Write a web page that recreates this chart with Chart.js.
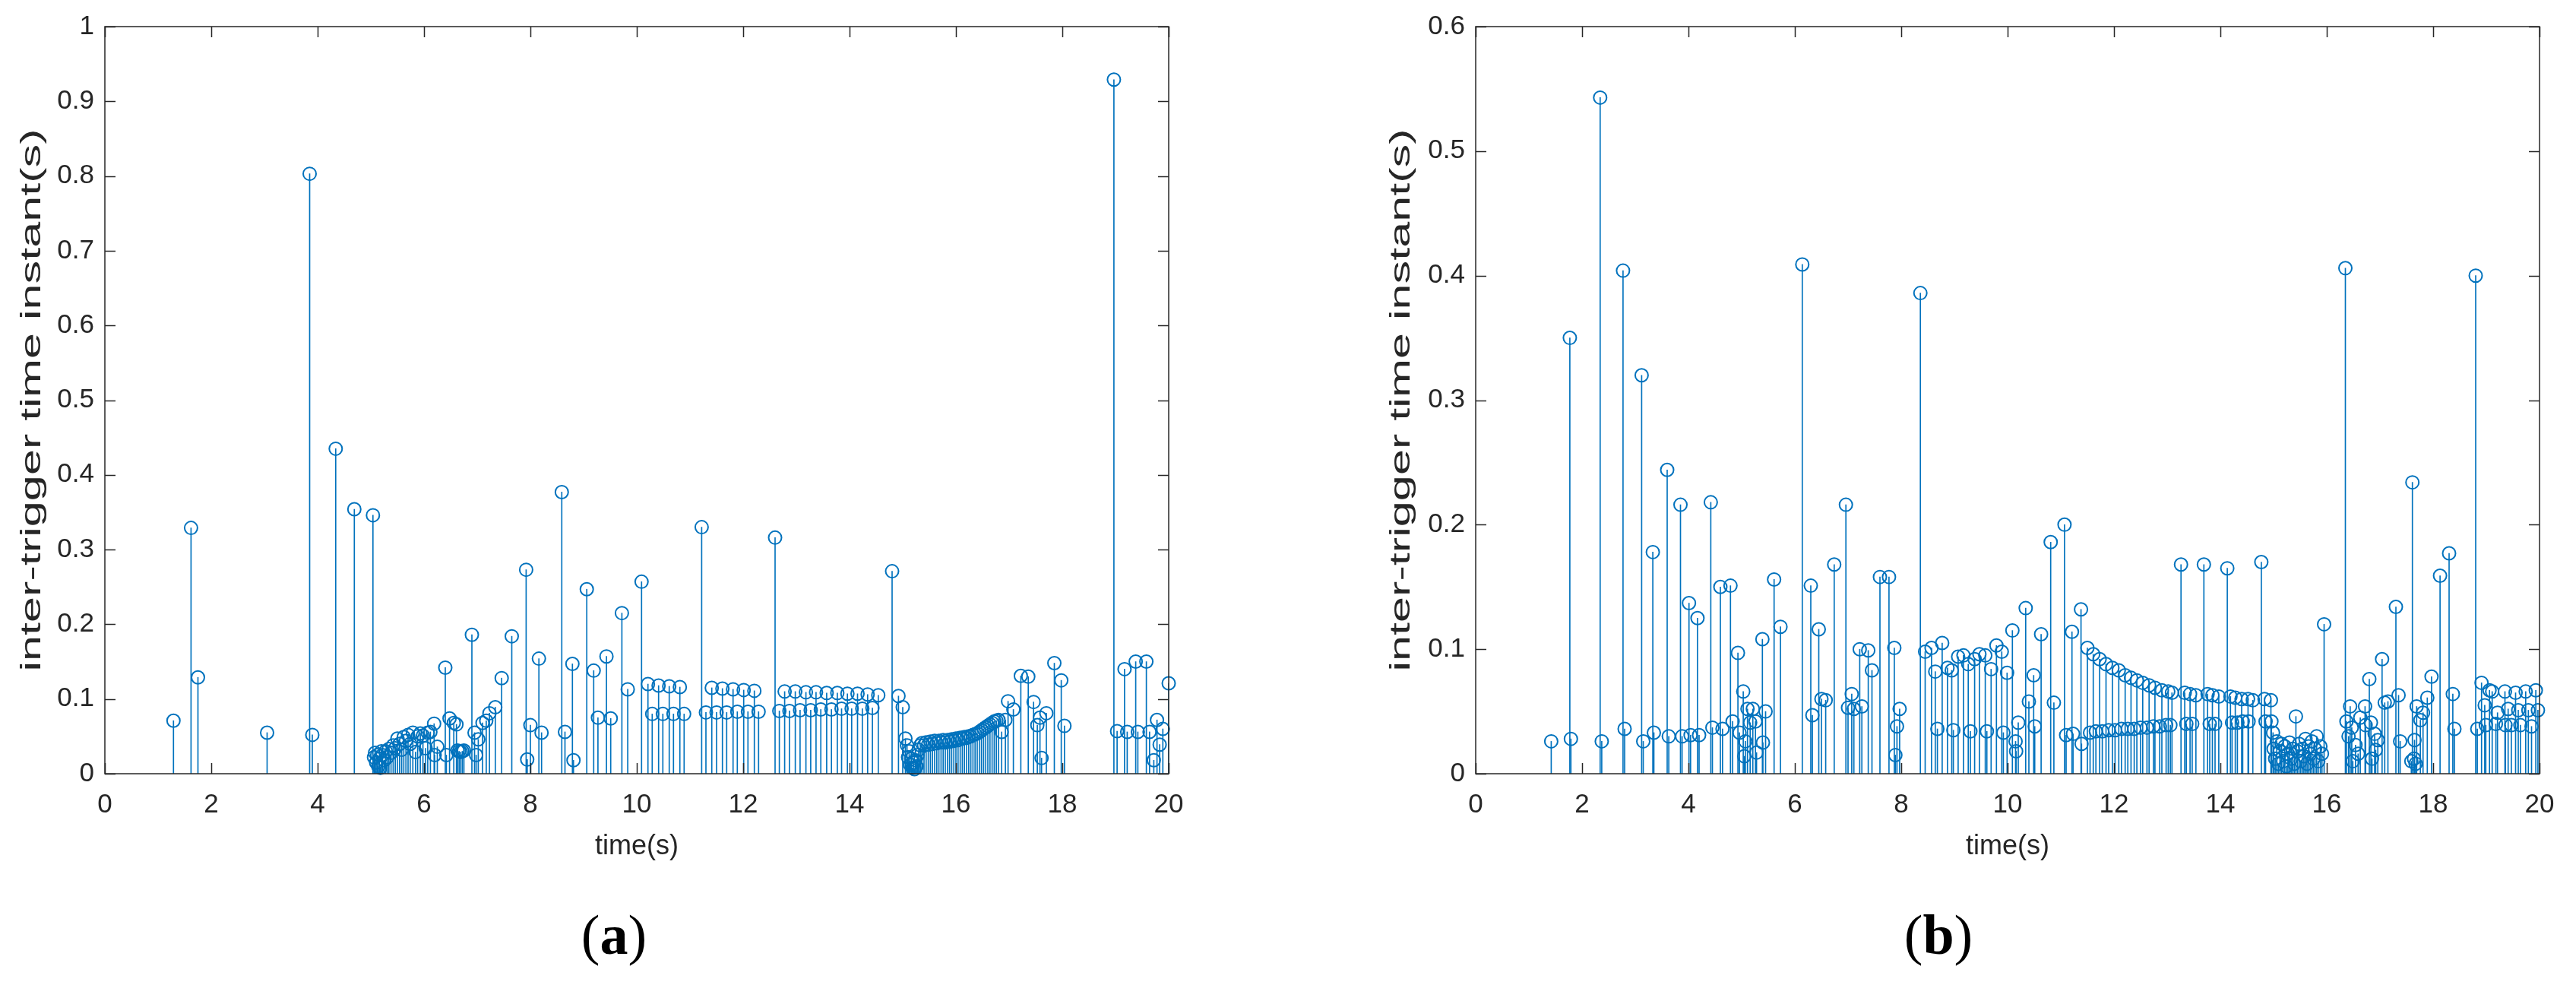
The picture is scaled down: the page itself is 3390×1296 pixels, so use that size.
<!DOCTYPE html>
<html>
<head>
<meta charset="utf-8">
<script src="https://cdn.jsdelivr.net/npm/chart.js@4.4.0/dist/chart.umd.min.js"></script>
<style>
  body { margin: 0; background: #fff; width: 3390px; height: 1296px; overflow: hidden; }
  .panel { position: absolute; top: 0; width: 1695px; height: 1296px; }
  #panelA { left: 0; }
  #panelB { left: 1695px; }
</style>
</head>
<body>
<div class="panel" id="panelA"><canvas id="chartA" width="1695" height="1296"></canvas></div>
<div class="panel" id="panelB"><canvas id="chartB" width="1695" height="1296"></canvas></div>
<script>
// tick labels
const xTicks = [0, 2, 4, 6, 8, 10, 12, 14, 16, 18, 20];
const yTicksA = [0, 0.1, 0.2, 0.3, 0.4, 0.5, 0.6, 0.7, 0.8, 0.9, 1];
const yTicksB = [0, 0.1, 0.2, 0.3, 0.4, 0.5, 0.6];

// (a) trigger times and inter-trigger intervals
const timeA = [
  1.29, 1.62, 1.75, 3.05, 3.85, 3.90, 4.34, 4.69, 5.04,
  5.06, 5.08, 5.10, 5.12, 5.14, 5.16, 5.18, 5.20, 5.22, 5.25, 5.28, 5.31, 5.34, 5.38,
  5.42, 5.46, 5.50, 5.54, 5.58, 5.62, 5.66, 5.70, 5.74, 5.79, 5.84, 5.88, 5.93, 5.98,
  6.03, 6.07, 6.12, 6.19, 6.20, 6.25, 6.40, 6.42, 6.48, 6.56, 6.61, 6.63, 6.66, 6.69,
  6.72, 6.75, 6.90, 6.95, 6.98, 7.02, 7.10, 7.17, 7.23, 7.34, 7.46, 7.65, 7.92, 7.94,
  8.00, 8.16, 8.21, 8.59, 8.65, 8.79, 8.81, 9.06, 9.19, 9.27, 9.43, 9.51, 9.72, 9.83,
  10.09, 10.21, 10.29, 10.41, 10.49, 10.61, 10.69, 10.81, 10.89,
  11.22, 11.30, 11.41, 11.50, 11.61, 11.69, 11.81, 11.89, 12.01, 12.09, 12.21, 12.29,
  12.60, 12.68, 12.78, 12.87, 12.98, 13.07, 13.18, 13.27, 13.37, 13.46, 13.57, 13.66,
  13.77, 13.85, 13.96, 14.04, 14.15, 14.24, 14.34, 14.43, 14.54,
  14.80, 14.92, 15.00, 15.05, 15.08, 15.10, 15.12, 15.14, 15.16, 15.18, 15.20, 15.22,
  15.24, 15.26, 15.28, 15.30, 15.33, 15.36, 15.40, 15.44, 15.48, 15.52, 15.56, 15.60,
  15.64, 15.68, 15.72, 15.76, 15.80, 15.84, 15.88, 15.92, 15.96, 16.00, 16.04, 16.08,
  16.12, 16.16, 16.20, 16.24, 16.28, 16.32, 16.36, 16.40, 16.44, 16.48, 16.52, 16.56,
  16.60, 16.64, 16.68, 16.72, 16.76, 16.80, 16.86, 16.93, 16.98, 17.08, 17.22, 17.36,
  17.46, 17.53, 17.58, 17.61, 17.70, 17.85, 17.98, 18.04,
  18.97, 19.03, 19.17, 19.22, 19.38, 19.42, 19.58, 19.64, 19.72, 19.78, 19.83, 19.89, 20.00
];
const valueA = [
  0.071, 0.329, 0.129, 0.055, 0.803, 0.052, 0.435, 0.354, 0.346,
  0.022, 0.028, 0.015, 0.025, 0.010, 0.020, 0.008, 0.030, 0.025, 0.018, 0.030, 0.022, 0.033, 0.028,
  0.038, 0.034, 0.047, 0.040, 0.032, 0.049, 0.044, 0.052, 0.040, 0.055, 0.029, 0.050, 0.054, 0.051,
  0.034, 0.055, 0.056, 0.067, 0.025, 0.036, 0.142, 0.025, 0.074, 0.068, 0.066, 0.031, 0.030, 0.029,
  0.030, 0.031, 0.186, 0.055, 0.025, 0.046, 0.068, 0.071, 0.081, 0.089, 0.128, 0.184, 0.273, 0.019,
  0.065, 0.154, 0.055, 0.377, 0.056, 0.147, 0.018, 0.247, 0.138, 0.075, 0.157, 0.074, 0.215, 0.113,
  0.257, 0.120, 0.080, 0.118, 0.080, 0.117, 0.080, 0.116, 0.080,
  0.330, 0.082, 0.115, 0.082, 0.114, 0.082, 0.113, 0.083, 0.112, 0.083, 0.111, 0.083,
  0.316, 0.084, 0.110, 0.084, 0.110, 0.085, 0.109, 0.085, 0.109, 0.086, 0.108, 0.086,
  0.108, 0.087, 0.107, 0.087, 0.107, 0.087, 0.106, 0.088, 0.105,
  0.271, 0.104, 0.089, 0.047, 0.038, 0.022, 0.030, 0.012, 0.020, 0.008, 0.015, 0.006,
  0.018, 0.010, 0.025, 0.032, 0.038, 0.041, 0.038, 0.042, 0.039, 0.043, 0.040, 0.044,
  0.041, 0.044, 0.042, 0.045, 0.042, 0.045, 0.043, 0.046, 0.044, 0.047, 0.045, 0.048,
  0.047, 0.049, 0.048, 0.050, 0.050, 0.052, 0.053, 0.054, 0.056, 0.058, 0.060, 0.062,
  0.064, 0.066, 0.068, 0.070, 0.071, 0.072, 0.056, 0.072, 0.097, 0.086, 0.131, 0.130,
  0.096, 0.065, 0.075, 0.021, 0.081, 0.148, 0.125, 0.064,
  0.929, 0.057, 0.140, 0.056, 0.150, 0.056, 0.150, 0.056, 0.018, 0.072, 0.039, 0.060, 0.121
];

// (b) trigger times and inter-trigger intervals
const timeB = [
  1.42, 1.77, 1.79, 2.34, 2.37, 2.77, 2.80, 3.12, 3.15, 3.33, 3.35, 3.60, 3.63, 3.85, 3.88,
  4.01, 4.04, 4.17, 4.20, 4.42, 4.45, 4.60, 4.64, 4.79, 4.83, 4.93, 4.96, 5.03, 5.05, 5.07,
  5.11, 5.16, 5.21, 5.26, 5.28, 5.39, 5.40, 5.45, 5.61, 5.73, 6.14, 6.30, 6.33, 6.45, 6.50,
  6.58, 6.74, 6.96, 7.00, 7.07, 7.11, 7.22, 7.26, 7.38, 7.45, 7.60, 7.77, 7.87, 7.89, 7.92,
  7.97, 8.36, 8.45, 8.57, 8.64, 8.68, 8.77, 8.87, 8.95, 8.98, 9.07, 9.17, 9.26, 9.30, 9.38,
  9.47, 9.58, 9.61, 9.69, 9.79, 9.89, 9.92, 9.99, 10.09, 10.15, 10.16, 10.20, 10.34, 10.40,
  10.49, 10.51, 10.63, 10.81, 10.87, 11.07, 11.10, 11.21, 11.23, 11.38, 11.39,
  11.50, 11.61, 11.73, 11.85, 11.97, 12.09, 12.21, 12.32, 12.43, 12.54, 12.66, 12.77, 12.90,
  13.02, 13.09, 13.33, 13.43, 13.54, 13.76, 13.85, 13.97, 14.19, 14.28, 14.40, 14.52, 14.61,
  14.83, 14.95,
  11.55, 11.66, 11.78, 11.90, 12.02, 12.14, 12.26, 12.38, 12.50, 12.62, 12.74, 12.86, 12.98,
  13.06, 13.36, 13.47, 13.80, 13.90, 14.22, 14.32, 14.42, 14.53, 14.85, 14.96,
  13.26, 13.69, 14.13, 14.77,
  14.99, 15.00, 15.03, 15.06, 15.09, 15.12, 15.15, 15.18, 15.21, 15.24, 15.27, 15.30, 15.33,
  15.36, 15.39, 15.42, 15.45, 15.48, 15.51, 15.54, 15.57, 15.60, 15.63, 15.66, 15.69, 15.72,
  15.75, 15.78, 15.81, 15.84, 15.88, 15.91, 15.95,
  16.35, 16.37, 16.41, 16.44, 16.47, 16.49, 16.54, 16.59, 16.63, 16.72, 16.73, 16.80, 16.83,
  16.85, 16.90, 16.92, 16.96, 17.04, 17.09, 17.15, 17.30, 17.35, 17.38, 17.59, 17.61, 17.64,
  17.65, 17.67, 17.69, 17.76, 17.81, 17.89, 17.97, 18.13, 18.30, 18.37, 18.40,
  18.80, 18.83, 18.91, 18.97, 18.99, 19.06, 19.11, 19.18, 19.21, 19.35, 19.36, 19.41, 19.47,
  19.55, 19.60, 19.64, 19.74, 19.79, 19.85, 19.93, 19.97
];
const valueB = [
  0.026, 0.350, 0.028, 0.543, 0.026, 0.404, 0.036, 0.320, 0.026, 0.178, 0.033, 0.244, 0.030, 0.216, 0.030,
  0.137, 0.031, 0.125, 0.031, 0.218, 0.037, 0.150, 0.036, 0.151, 0.042, 0.097, 0.033, 0.066, 0.014, 0.026,
  0.052, 0.041, 0.052, 0.042, 0.017, 0.108, 0.025, 0.050, 0.156, 0.118, 0.409, 0.151, 0.047, 0.116, 0.060,
  0.059, 0.168, 0.216, 0.053, 0.064, 0.052, 0.100, 0.054, 0.099, 0.083, 0.158, 0.158, 0.101, 0.015, 0.038,
  0.052, 0.386, 0.098, 0.101, 0.082, 0.036, 0.105, 0.085, 0.083, 0.035, 0.094, 0.095, 0.088, 0.034, 0.092,
  0.096, 0.095, 0.034, 0.084, 0.103, 0.098, 0.033, 0.081, 0.115, 0.026, 0.018, 0.041, 0.133, 0.058,
  0.079, 0.038, 0.112, 0.186, 0.057, 0.200, 0.031, 0.114, 0.032, 0.132, 0.024,
  0.101, 0.096, 0.092, 0.088, 0.085, 0.083, 0.079, 0.077, 0.075, 0.073, 0.071, 0.069, 0.067,
  0.066, 0.065, 0.065, 0.064, 0.063, 0.064, 0.063, 0.062, 0.062, 0.061, 0.060, 0.060, 0.059,
  0.060, 0.059,
  0.033, 0.034, 0.034, 0.035, 0.035, 0.036, 0.036, 0.036, 0.037, 0.037, 0.038, 0.038, 0.039,
  0.039, 0.040, 0.040, 0.040, 0.040, 0.041, 0.041, 0.042, 0.042, 0.042, 0.042,
  0.168, 0.168, 0.165, 0.170,
  0.033, 0.020, 0.012, 0.026, 0.008, 0.018, 0.024, 0.010, 0.022, 0.006, 0.016, 0.025, 0.012,
  0.020, 0.008, 0.046, 0.018, 0.024, 0.010, 0.020, 0.014, 0.028, 0.008, 0.022, 0.016, 0.026,
  0.012, 0.020, 0.030, 0.010, 0.022, 0.016, 0.120,
  0.406, 0.042, 0.030, 0.054, 0.037, 0.010, 0.023, 0.016, 0.045, 0.054, 0.039, 0.076, 0.041,
  0.012, 0.032, 0.019, 0.027, 0.092, 0.057, 0.058, 0.134, 0.063, 0.026, 0.010, 0.234, 0.012,
  0.027, 0.008, 0.054, 0.043, 0.049, 0.061, 0.078, 0.159, 0.177, 0.064, 0.036,
  0.400, 0.036, 0.073, 0.055, 0.039, 0.067, 0.066, 0.040, 0.049, 0.066, 0.039, 0.052, 0.039,
  0.065, 0.051, 0.039, 0.066, 0.051, 0.038, 0.067, 0.051
];

const xTitle = "time(s)";
const yTitle = "inter-trigger time instant(s)";

const stemColor = "#0072BD";
const axisColor = "#262626";
const sansFont = "'Liberation Sans', Arial, sans-serif";

// inward ticks, full box, axis titles and panel tag
const matlabBox = {
  id: "matlabBox",
  afterDatasetsDraw(chart, args, opts) {
    const { ctx, chartArea: a, scales } = chart;
    const x = scales.x;
    const y = scales.y;
    ctx.save();
    ctx.strokeStyle = axisColor;
    ctx.lineWidth = 1.5;
    ctx.strokeRect(a.left, a.top, a.right - a.left, a.bottom - a.top);
    ctx.beginPath();
    x.ticks.forEach((t) => {
      const px = Math.round(x.getPixelForValue(t.value)) + 0.5;
      ctx.moveTo(px, a.bottom);
      ctx.lineTo(px, a.bottom - 14);
      ctx.moveTo(px, a.top);
      ctx.lineTo(px, a.top + 14);
    });
    y.ticks.forEach((t) => {
      const py = Math.round(y.getPixelForValue(t.value)) + 0.5;
      ctx.moveTo(a.left, py);
      ctx.lineTo(a.left + 14, py);
      ctx.moveTo(a.right, py);
      ctx.lineTo(a.right - 14, py);
    });
    ctx.stroke();

    ctx.fillStyle = axisColor;
    ctx.font = "36px " + sansFont;
    ctx.textAlign = "center";
    ctx.textBaseline = "alphabetic";
    ctx.fillText(xTitle, (a.left + a.right) / 2, 1124);

    // the y label in the figure is stretched along its length
    ctx.save();
    ctx.translate(opts.yTitleX, (a.top + a.bottom) / 2);
    ctx.rotate(-Math.PI / 2);
    ctx.scale(1.7, 1);
    ctx.textBaseline = "middle";
    ctx.fillText(yTitle, 0, 0);
    ctx.restore();

    // panel tag: "(" regular, letter bold, ")" regular
    ctx.fillStyle = "#000";
    ctx.textAlign = "left";
    const reg = "74px 'Liberation Serif', 'Times New Roman', serif";
    const bold = "bold 74px 'Liberation Serif', 'Times New Roman', serif";
    ctx.font = reg;
    const wOpen = ctx.measureText("(").width;
    const wClose = ctx.measureText(")").width;
    ctx.font = bold;
    const wLetter = ctx.measureText(opts.tag).width;
    let tx = opts.tagX - (wOpen + wLetter + wClose) / 2;
    const ty = 1255;
    ctx.font = reg;
    ctx.fillText("(", tx, ty);
    tx += wOpen;
    ctx.font = bold;
    ctx.fillText(opts.tag, tx, ty);
    tx += wLetter;
    ctx.font = reg;
    ctx.fillText(")", tx, ty);
    ctx.restore();
  },
};

const makeChart = (canvasId, times, values, yMax, yTicks, layout) => {
  const points = times.map((t, i) => ({ x: t, y: values[i] }));
  return new Chart(document.getElementById(canvasId), {
    type: "bar",
    data: {
      datasets: [
        {
          type: "line",
          data: points,
          showLine: false,
          pointStyle: "circle",
          pointRadius: 8.5,
          pointBorderWidth: 2,
          pointBorderColor: stemColor,
          pointBackgroundColor: "rgba(0,0,0,0)",
          clip: false,
          order: 1,
        },
        {
          type: "bar",
          data: points,
          backgroundColor: stemColor,
          barThickness: 1,
          borderWidth: 0,
          order: 2,
        },
      ],
    },
    options: {
      responsive: false,
      animation: false,
      events: [],
      layout: { padding: { left: 0, top: 33, right: layout.padRight, bottom: 0 } },
      plugins: {
        legend: { display: false },
        tooltip: { enabled: false },
        matlabBox: { yTitleX: layout.yTitleX, tag: layout.tag, tagX: layout.tagX },
      },
      scales: {
        x: {
          type: "linear",
          min: 0,
          max: 20,
          offset: false,
          grid: { display: false, drawTicks: false },
          border: { display: false },
          afterBuildTicks: (s) => {
            s.ticks = xTicks.map((v) => ({ value: v }));
          },
          ticks: {
            font: { family: sansFont, size: 35 },
            color: axisColor,
            padding: 20,
            maxRotation: 0,
            autoSkip: false,
            callback: (v) => String(v),
          },
          afterFit: (s) => {
            s.height = 278;
          },
        },
        y: {
          type: "linear",
          min: 0,
          max: yMax,
          grid: { display: false, drawTicks: false },
          border: { display: false },
          afterBuildTicks: (s) => {
            s.ticks = yTicks.map((v) => ({ value: v }));
          },
          ticks: {
            font: { family: sansFont, size: 35 },
            color: axisColor,
            padding: 14,
            autoSkip: false,
            callback: (v) => String(Math.round(v * 10) / 10),
          },
          afterFit: (s) => {
            s.width = layout.yWidth;
          },
        },
      },
    },
    plugins: [matlabBox],
  });
};

makeChart("chartA", timeA, valueA, 1, yTicksA, {
  yWidth: 138, padRight: 157, yTitleX: 43, tag: "a", tagX: 808,
});
makeChart("chartB", timeB, valueB, 0.6, yTicksB, {
  yWidth: 247, padRight: 48, yTitleX: 150, tag: "b", tagX: 856,
});
</script>
</body>
</html>
